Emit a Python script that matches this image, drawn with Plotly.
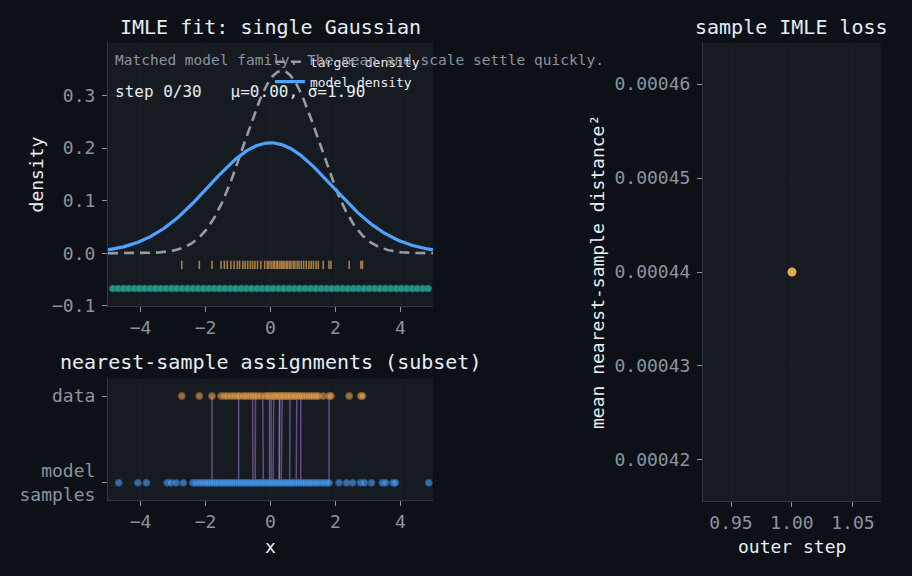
import numpy as np
import plotly.graph_objects as go

# ---------------- data ----------------
target_mu, target_sigma = 0.35, 1.15
model_mu, model_sigma = 0.00, 1.90
step_idx, n_steps = 0, 30

data_x = [-2.73, -2.19, -1.80, -1.52, -1.42, -1.33, -1.22, -1.12, -1.02, -0.95,
          -0.85, -0.78, -0.70, -0.62, -0.55, -0.48, -0.40, -0.30, -0.18, -0.10,
          -0.05, 0.02, 0.08, 0.12, 0.18, 0.22, 0.28, 0.33, 0.38, 0.42,
          0.48, 0.52, 0.58, 0.63, 0.70, 0.75, 0.82, 0.88, 0.95, 1.02,
          1.10, 1.18, 1.25, 1.32, 1.40, 1.47, 1.62, 1.80, 1.86, 2.42,
          2.78, 2.83]

model_samples = [-4.67, -4.08, -3.82, -3.18, -3.06, -2.90, -2.68,
                 -2.39, -2.30, -2.22, -2.15, -2.08, -2.01, -1.95, -1.88, -1.80, -1.74,
                 -1.66, -1.60, -1.52, -1.47, -1.40, -1.33, -1.27, -1.20, -1.13, -1.05,
                 -0.98, -0.92, -0.85, -0.79, -0.72, -0.66, -0.59, -0.54, -0.47, -0.41,
                 -0.35, -0.28, -0.22, -0.15, -0.09, -0.03, 0.02, 0.08, 0.14, 0.20,
                 0.27, 0.33, 0.39, 0.46, 0.52, 0.59, 0.65, 0.72, 0.79, 0.86,
                 0.93, 1.00, 1.07, 1.15, 1.22, 1.30, 1.38, 1.46, 1.55, 1.63,
                 1.72, 1.80,
                 2.11, 2.34, 2.53, 2.77, 2.89, 3.11, 3.44, 3.54, 3.77, 3.84, 4.87]

grid_points = [-4.85, -4.69, -4.52, -4.36, -4.19, -4.03, -3.87, -3.70, -3.54, -3.37,
               -3.21, -3.04, -2.88, -2.71, -2.55, -2.38, -2.22, -2.06, -1.89, -1.73,
               -1.56, -1.40, -1.23, -1.07, -0.90, -0.74, -0.58, -0.41, -0.25, -0.08,
               0.08, 0.25, 0.41, 0.58, 0.74, 0.90, 1.07, 1.23, 1.40, 1.56,
               1.73, 1.89, 2.06, 2.22, 2.38, 2.55, 2.71, 2.88, 3.04, 3.21,
               3.37, 3.54, 3.70, 3.87, 4.03, 4.19, 4.36, 4.52, 4.69, 4.85]

subset_data_x = [-1.80, -0.98, -0.55, -0.46, -0.24, -0.03, 0.02, 0.10, 0.28, 0.28,
                 0.36, 0.60, 0.81, 0.93, 1.80]
subset_model_x = [-1.80, -0.98, -0.54, -0.47, -0.22, -0.03, 0.02, 0.08, 0.27, 0.27,
                  0.33, 0.59, 0.79, 0.93, 1.80]

loss_steps = [1]
loss_values = [0.00044]

bottom_tickvals = [1, 0]
bottom_ticktext = ["data", "model<br>samples"]

caption = "Matched model family. The mean and scale settle quickly."

# ---------------- styling ----------------
FONT = "DejaVu Sans Mono"
PAGE_BG = "#0d1117"
PLOT_BG = "#161b22"
TICK_C = "#8b949e"
TEXT_C = "#e6edf3"
SPINE_C = "#30363d"
BLUE = "#4da3ff"
ORANGE = "#e8a555"
TEAL = "#2a9d8f"

xg = np.linspace(-5, 5, 400)
def gauss(x, m, s):
    return np.exp(-0.5 * ((x - m) / s) ** 2) / (s * np.sqrt(2 * np.pi))

fig = go.Figure()

# top panel
fig.add_trace(go.Scatter(x=xg, y=gauss(xg, target_mu, target_sigma), mode="lines",
                         name="target density",
                         line=dict(color="#969ca5", width=2.6, dash="10px,6px"),
                         xaxis="x", yaxis="y"))
fig.add_trace(go.Scatter(x=xg, y=gauss(xg, model_mu, model_sigma), mode="lines",
                         name="model density", line=dict(color=BLUE, width=3.2),
                         xaxis="x", yaxis="y"))
fig.add_trace(go.Scatter(x=data_x, y=[-0.022] * len(data_x), mode="markers",
                         showlegend=False,
                         marker=dict(symbol="line-ns", size=6, opacity=0.7,
                                     line=dict(color=ORANGE, width=1.6)),
                         xaxis="x", yaxis="y"))
fig.add_trace(go.Scatter(x=grid_points, y=[-0.067] * len(grid_points), mode="markers",
                         showlegend=False,
                         marker=dict(size=7, color=TEAL, opacity=0.9,
                                     line=dict(width=0.7, color="#1d6f66")),
                         xaxis="x", yaxis="y"))

# bottom panel
lx, ly = [], []
for a, b in zip(subset_data_x, subset_model_x):
    lx += [a, b, None]
    ly += [1, 0, None]
fig.add_trace(go.Scatter(x=lx, y=ly, mode="lines", showlegend=False,
                         line=dict(color="rgba(176,126,230,0.5)", width=1.5),
                         xaxis="x2", yaxis="y2"))
fig.add_trace(go.Scatter(x=data_x, y=[1] * len(data_x), mode="markers", showlegend=False,
                         marker=dict(size=7, color=ORANGE, opacity=0.6,
                                     line=dict(color="#a87432", width=1)),
                         xaxis="x2", yaxis="y2"))
fig.add_trace(go.Scatter(x=model_samples, y=[0] * len(model_samples), mode="markers",
                         showlegend=False,
                         marker=dict(size=7, color=BLUE, opacity=0.6,
                                     line=dict(color="#2f6fb3", width=1)),
                         xaxis="x2", yaxis="y2"))

# right panel
fig.add_trace(go.Scatter(x=loss_steps, y=loss_values, mode="markers", showlegend=False,
                         marker=dict(size=9, color=ORANGE),
                         xaxis="x3", yaxis="y3"))

def ax(**kw):
    base = dict(showgrid=True, gridcolor="rgba(255,255,255,0.018)", zeroline=False,
                showline=True, linecolor=SPINE_C, linewidth=1,
                ticks="outside", ticklen=5, tickcolor=TICK_C,
                tickfont=dict(family=FONT, size=18, color=TICK_C))
    base.update(kw)
    return base

H = 568.0  # effective rendered height used for pixel placement
def py(px):
    return 1 - px / H

fig.update_layout(
    width=912, height=576, autosize=False,
    margin=dict(l=0, r=0, t=0, b=0),
    paper_bgcolor=PAGE_BG, plot_bgcolor=PLOT_BG,
    font=dict(family=FONT, color=TEXT_C),
    xaxis=ax(domain=[0.1184, 0.4748], range=[-5, 5], tickvals=[-4, -2, 0, 2, 4],
             anchor="y"),
    yaxis=ax(domain=[py(307), py(43)], range=[-0.1, 0.4],
             tickvals=[-0.1, 0.0, 0.1, 0.2, 0.3], tickformat=".1f", anchor="x",
             ticklabelstandoff=3),
    xaxis2=ax(domain=[0.1184, 0.4748], range=[-5, 5], tickvals=[-4, -2, 0, 2, 4],
              anchor="y2"),
    yaxis2=ax(domain=[py(502), py(380)], range=[-0.2, 1.2], tickvals=bottom_tickvals,
              ticktext=bottom_ticktext, anchor="x2", ticklabelstandoff=3),
    xaxis3=ax(domain=[0.7708, 0.9660], range=[0.927, 1.073],
              tickvals=[0.95, 1.00, 1.05], tickformat=".2f", anchor="y3"),
    yaxis3=ax(domain=[py(503), py(43)], range=[0.0004156, 0.0004644],
              tickvals=[0.00042, 0.00043, 0.00044, 0.00045, 0.00046],
              tickformat=".5f", anchor="x3", ticklabelstandoff=3),
    legend=dict(x=0.296, y=py(47), xanchor="left", yanchor="top",
                bgcolor="rgba(0,0,0,0)", borderwidth=0,
                font=dict(family=FONT, size=13, color=TEXT_C),
                tracegroupgap=0, itemwidth=30),
    showlegend=True,
)

ann = []
def txt(x, y, s, size, color=TEXT_C, xa="center", ya="middle", angle=0):
    ann.append(dict(x=x, y=y, xref="paper", yref="paper", text=s, showarrow=False,
                    xanchor=xa, yanchor=ya, textangle=angle,
                    font=dict(family=FONT, size=size, color=color)))

txt(0.297, py(27), "IMLE fit: single Gaussian", 20)
txt(0.297, py(363), "nearest-sample assignments (subset)", 20)
txt(0.868, py(27), "sample IMLE loss", 20)
txt(0.0395, py(175), "density", 18, angle=-90)
txt(0.297, py(548), "x", 18)
txt(0.868, py(548), "outer step", 18)
txt(0.6546, py(273), "mean nearest-sample distance²", 18, angle=-90)
txt(0.1239, py(60), caption, 14.5, color=TICK_C, xa="left")
txt(0.1239, py(92), f"step {step_idx}/{n_steps}   μ={model_mu:.2f}, σ={model_sigma:.2f}",
    16, xa="left")
fig.update_layout(annotations=ann)

post = (
    "document.documentElement.style.margin='0';"
    "document.documentElement.style.background='" + PAGE_BG + "';"
    "document.body.style.margin='0';"
    "document.body.style.background='" + PAGE_BG + "';"
)
fig.write_html("out.html",
               config={"displayModeBar": False, "responsive": False},
               post_script=post)
